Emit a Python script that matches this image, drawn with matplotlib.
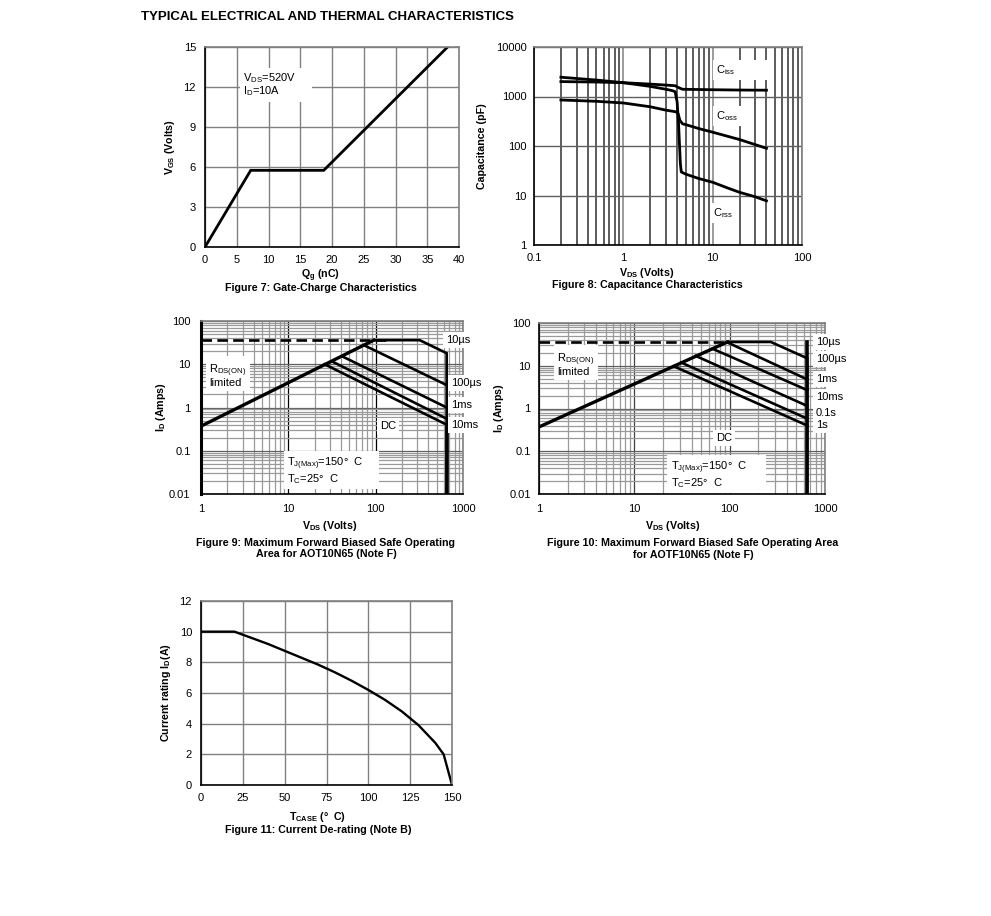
import numpy as np
import matplotlib
matplotlib.use('Agg')
from matplotlib import pyplot as plt
from matplotlib.ticker import FixedLocator, NullFormatter, FixedFormatter

plt.rcParams['font.family'] = ['Liberation Sans', 'DejaVu Sans']
plt.rcParams['mathtext.fontset'] = 'custom'
plt.rcParams['mathtext.rm'] = 'Liberation Sans'
plt.rcParams['mathtext.bf'] = 'Liberation Sans:bold'
plt.rcParams['mathtext.default'] = 'regular'
plt.rcParams['font.size'] = 8

W, H = 991, 916
BOLD = 7.7

# Figure 7
qg = [0, 7.2, 18.7, 38.2]
vgs = [0, 5.75, 5.75, 15]

# Figure 8
ciss_v = [0.2, 0.5, 1, 2, 3, 3.8, 4.2, 4.6, 6, 10, 20, 40]
ciss = [2000, 1960, 1900, 1780, 1700, 1650, 1500, 1400, 1390, 1370, 1350, 1340]
crss_v = [0.2, 0.5, 1, 2, 3, 3.5, 3.8, 4, 4.15, 4.35, 4.45, 4.6, 5, 7, 10, 15, 20, 30, 40]
crss = [2450, 2150, 1900, 1600, 1400, 1320, 1250, 780, 285, 44, 30, 29, 27, 22, 18.5, 14, 11.6, 9.4, 7.8]
coss_v = [0.2, 0.5, 1, 2, 3, 3.9, 4.1, 4.3, 4.6, 5, 7, 10, 20, 40]
coss = [850, 800, 740, 620, 530, 490, 450, 330, 280, 270, 225, 190, 135, 90]

# Figure 9
limit9_x = [1, 95]
limit9_y = [0.37, 36]
dash9_x = [1, 130]
dash9_y = [36, 36]
us10_9_x = [95, 320, 650, 650]
us10_9_y = [36, 36, 18, 0.01]
lines9 = [([75, 650], [27, 3.3]), ([42, 650], [15, 1.0]),
          ([32, 650], [11.5, 0.55]), ([26, 650], [10, 0.4])]

# Figure 10
limit10_x = [1, 95]
limit10_y = [0.37, 36]
dash10_x = [1, 95]
dash10_y = [36, 36]
us10_10_x = [95, 270, 650, 650]
us10_10_y = [36, 36, 15, 0.01]
lines10 = [([95, 650], [35, 4.8]), ([66, 650], [25, 2.7]), ([44, 650], [17, 1.15]),
           ([31, 650], [11.9, 0.58]), ([26, 650], [9.7, 0.4])]

# Figure 11
tcase = [0, 20, 25, 30, 40, 50, 60, 70, 80, 90, 100, 110, 120, 130, 140, 145, 150]
id_rating = [10, 10, 9.8, 9.6, 9.2, 8.75, 8.3, 7.85, 7.35, 6.8, 6.2, 5.55, 4.8, 3.9, 2.75, 2, 0]

log_minor = [m * 10.0 ** e for e in range(-3, 5) for m in range(2, 10)]


def make_axes(left, right, top, bottom):
    return fig.add_axes([left / W, 1 - bottom / H, (right - left) / W, (bottom - top) / H])


def style_spines(ax, xpad=6, ypad=6.5, color='#808080', lw=1.2):
    for name in ['top', 'right']:
        ax.spines[name].set_color(color)
        ax.spines[name].set_linewidth(lw)
    for name in ['left', 'bottom']:
        ax.spines[name].set_color('black')
        ax.spines[name].set_linewidth(lw)
    ax.tick_params(which='both', length=0, labelsize=8)
    ax.tick_params(axis='x', which='both', pad=xpad)
    ax.tick_params(axis='y', which='both', pad=ypad)
    ax.set_axisbelow(True)


def label(ax, x, y, s, **kw):
    ax.text(x, y, s, fontsize=8, va='center', zorder=6,
            bbox=dict(facecolor='white', edgecolor='none', pad=2.2), **kw)


def px_text(x, y, s, **kw):
    fig.text(x / W, 1 - (y + 1) / H, s, ha=kw.pop('ha', 'center'), va='center', **kw)


def soa_axes(box, xpad, ypad, vmajor):
    ax = make_axes(*box)
    ax.set_xscale('log')
    ax.set_yscale('log')
    ax.set_xlim(1, 1000)
    ax.set_ylim(0.01, 100)
    ax.xaxis.set_major_locator(FixedLocator([1, 10, 100, 1000]))
    ax.xaxis.set_major_formatter(FixedFormatter(['1', '10', '100', '1000']))
    ax.yaxis.set_major_locator(FixedLocator([0.01, 0.1, 1, 10, 100]))
    ax.yaxis.set_major_formatter(FixedFormatter(['0.01', '0.1', '1', '10', '100']))
    ax.xaxis.set_minor_locator(FixedLocator(log_minor))
    ax.yaxis.set_minor_locator(FixedLocator(log_minor))
    ax.xaxis.set_minor_formatter(NullFormatter())
    ax.yaxis.set_minor_formatter(NullFormatter())
    ax.grid(which='minor', color='#9a9a9a', lw=0.9)
    ax.grid(axis='x', which='major', color=vmajor, lw=0.9)
    ax.grid(axis='y', which='major', color='#606060', lw=0.9)
    style_spines(ax, xpad, ypad)
    return ax


fig = plt.figure(figsize=(W / 100, H / 100), dpi=100)

px_text(141, 16, 'TYPICAL ELECTRICAL AND THERMAL CHARACTERISTICS', ha='left',
        fontsize=9.5, fontweight='bold')

# ---- Figure 7
ax = make_axes(205, 459, 47, 247)
ax.plot(qg, vgs, color='black', lw=2.0, solid_joinstyle='miter')
ax.set_xlim(0, 40)
ax.set_ylim(0, 15)
ax.set_xticks(range(0, 41, 5))
ax.set_yticks(range(0, 16, 3))
ax.grid(color='#808080', lw=1.0)
style_spines(ax)
label(ax, 6, 12.15, '$V_{DS}$=520V     \n$I_D$=10A', linespacing=0.92)
ax.set_ylabel(r'$\mathbf{V_{GS}}$ (Volts)', fontweight='bold', fontsize=BOLD, labelpad=4.5)
px_text(320, 275, r'$\mathbf{Q_g}$ (nC)', fontweight='bold', fontsize=BOLD)
px_text(321, 287, 'Figure 7: Gate-Charge Characteristics', fontweight='bold', fontsize=BOLD)

# ---- Figure 8
ax = make_axes(534, 802, 47, 245)
ax.set_xscale('log')
ax.set_yscale('log')
ax.set_xlim(0.1, 100)
ax.set_ylim(1, 10000)
ax.xaxis.set_major_locator(FixedLocator([0.1, 1, 10, 100]))
ax.xaxis.set_major_formatter(FixedFormatter(['0.1', '1', '10', '100']))
ax.yaxis.set_major_locator(FixedLocator([1, 10, 100, 1000, 10000]))
ax.yaxis.set_major_formatter(FixedFormatter(['1', '10', '100', '1000', '10000']))
ax.xaxis.set_minor_locator(FixedLocator(log_minor))
ax.xaxis.set_minor_formatter(NullFormatter())
ax.yaxis.set_minor_locator(FixedLocator([]))
ax.grid(axis='x', which='minor', color='#303030', lw=1.1)
ax.grid(axis='x', which='major', color='#808080', lw=1.1)
ax.grid(axis='y', which='major', color='#606060', lw=1.0)
style_spines(ax, 6, 5.5)
for xs, ys in [(ciss_v, ciss), (crss_v, crss), (coss_v, coss)]:
    ax.plot(xs, ys, color='black', lw=2.0)
label(ax, 10.8, 3430, '$C_{iss}$          ')
label(ax, 10.8, 404, '$C_{oss}$')
label(ax, 10.0, 4.4, '$C_{rss}$')
ax.set_ylabel('Capacitance (pF)', fontweight='bold', fontsize=BOLD, labelpad=6.5)
px_text(647, 272, r'$\mathbf{V_{DS}}$ (Volts)', fontweight='bold', fontsize=BOLD)
px_text(647, 284, 'Figure 8: Capacitance Characteristics', fontweight='bold', fontsize=BOLD)

# ---- Figure 9
ax = soa_axes((201, 463, 321, 494), 7, 7.5, 'black')
ax.spines['left'].set_linewidth(2.2)
ax.plot(dash9_x, dash9_y, color='black', lw=1.9, ls=(0, (4, 2)), zorder=4)
ax.plot(limit9_x, limit9_y, color='black', lw=2.4, zorder=5)
ax.plot(us10_9_x, us10_9_y, color='black', lw=1.9, zorder=5, solid_joinstyle='miter')
for xs, ys in lines9:
    ax.plot(xs, ys, color='black', lw=1.9, zorder=5)
ax.plot([650, 650], [0.4, 0.01], color='black', lw=2.6, zorder=5)
label(ax, 1.24, 5.5, '$R_{DS(ON)}$\nlimited', linespacing=0.875)
label(ax, 640, 36.4, '10µs')
label(ax, 728, 3.68, '100µs')
label(ax, 728, 1.14, '1ms')
label(ax, 728, 0.393, '10ms')
label(ax, 112, 0.373, 'DC')
label(ax, 9.65, 0.034, '$T_{J(Max)}$=150°  C     \n$T_C$=25°  C', linespacing=1.0)
ax.set_ylabel(r'$\mathbf{I_D}$ (Amps)', fontweight='bold', fontsize=BOLD, labelpad=0.5)
px_text(330, 525, r'$\mathbf{V_{DS}}$ (Volts)', fontweight='bold', fontsize=BOLD)
px_text(326, 542, 'Figure 9: Maximum Forward Biased Safe Operating', fontweight='bold', fontsize=BOLD)
px_text(326, 553, 'Area for AOT10N65 (Note F)', fontweight='bold', fontsize=BOLD)

# ---- Figure 10
ax = soa_axes((539, 825, 323, 494), 7, 6, '#404040')
ax.plot(dash10_x, dash10_y, color='black', lw=1.9, ls=(0, (4, 2)), zorder=4)
ax.plot(limit10_x, limit10_y, color='black', lw=2.4, zorder=5)
ax.plot(us10_10_x, us10_10_y, color='black', lw=1.9, zorder=5, solid_joinstyle='miter')
for xs, ys in lines10:
    ax.plot(xs, ys, color='black', lw=1.9, zorder=5)
ax.plot([650, 650], [36, 0.01], color='black', lw=2.6, zorder=5)
label(ax, 1.55, 10.7, '$R_{DS(ON)}$\nlimited', linespacing=0.875)
for s, y in [('10µs', 36), ('100µs', 14.5), ('1ms', 4.9), ('10ms', 1.86), ('0.1s', 0.8), ('1s', 0.42)]:
    label(ax, 800, y, s)
label(ax, 87, 0.204, 'DC', ha='center')
label(ax, 24.0, 0.0278, '$T_{J(Max)}$=150°  C      \n$T_C$=25°  C', linespacing=1.0)
ax.set_ylabel(r'$\mathbf{I_D}$ (Amps)', fontweight='bold', fontsize=BOLD, labelpad=2)
px_text(673, 525, r'$\mathbf{V_{DS}}$ (Volts)', fontweight='bold', fontsize=BOLD)
px_text(693, 542, 'Figure 10: Maximum Forward Biased Safe Operating Area', fontweight='bold', fontsize=BOLD)
px_text(693, 554, 'for AOTF10N65 (Note F)', fontweight='bold', fontsize=BOLD)

# ---- Figure 11
ax = make_axes(201, 452, 601, 785)
ax.plot(tcase, id_rating, color='black', lw=1.7)
ax.set_xlim(0, 150)
ax.set_ylim(0, 12)
ax.set_xticks(range(0, 151, 25))
ax.set_yticks(range(0, 13, 2))
ax.grid(color='#808080', lw=1.0)
style_spines(ax)
ax.set_ylabel(r'Current rating $\mathbf{I_D}$(A)', fontweight='bold', fontsize=BOLD, labelpad=4.5)
px_text(318, 816, r'$\mathbf{T_{CASE}}$ (°  C)', fontweight='bold', fontsize=BOLD)
px_text(318, 829, 'Figure 11: Current De-rating (Note B)', fontweight='bold', fontsize=BOLD)

fig.savefig('out.png', dpi=100)
